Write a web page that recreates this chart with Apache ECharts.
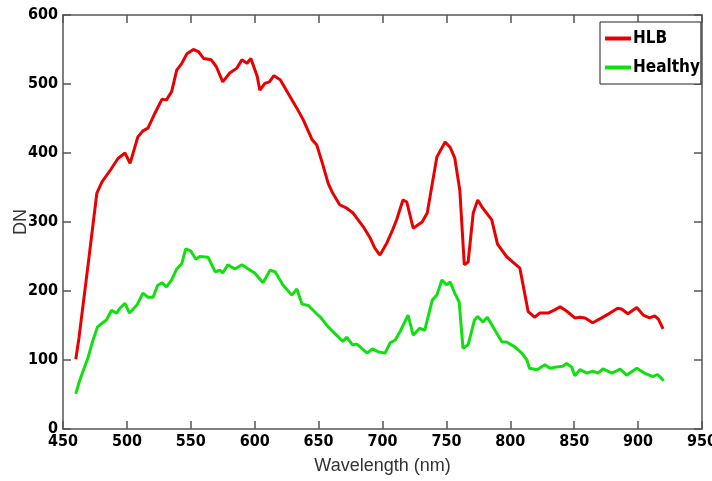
<!DOCTYPE html>
<html>
<head>
<meta charset="utf-8">
<script src="https://cdn.jsdelivr.net/npm/echarts@6/dist/echarts.min.js"></script>
<style>
html,body{margin:0;padding:0;background:#fff;}
#chart{width:712px;height:481px;}
</style>
</head>
<body>
<div id="chart"></div>
<script>
// Wavelength (nm) and DN values
var hlbWavelength = [460,462.5,469.5,476.5,480.5,487,493,498.5,502.5,508.5,512.5,516.5,522,527.5,531,535,539,543,547,552,556,560,566,570,575,580.5,586,590,594,597,602,604,608,611.5,615,620,626,633,638,645,648.5,653,657.5,661,666.5,672,677,685,690,694,698,703.5,708,711,716,719,724,731,735,739,742.5,749,753,756.5,760.5,764,767,771,774.5,778.5,785.5,790,797,802,807.5,814,819,823,829.5,834,839,844,850.5,854.5,858.5,864.5,871.5,878,884,887,892,899,904,909,913,916,919.5];
var hlbDN = [101,132,236,342,358,375,392,400,385,423,432,436,458,478,477,489,520,530,544,550,547,537,535,525,503,516,523,535,530,537,511,491,501,503,512,506,487,465,448,419,412,385,356,342,325,320,313,293,278,262,252,270,289,303,332,329,291,300,313,356,394,416,408,393,346,238,242,313,332,320,303,268,250,242,233,170,162,168,168,172,177,171,161,162,161,154,161,168,175,174,167,176,165,161,164,159,145];

var healthyWavelength = [460,462.5,465.5,469.5,473.5,477,481,484,488,492,494.5,498.5,502,508,512.5,516.5,520.5,524,527.5,531,535,539,543,546,550,554,557,563.5,569,573,575,579,584.5,590,595,600,606.5,612,616,622,629,633,637,642,648.5,651,657.5,664,669,672,676.5,680,688,692,696.5,702,706,710,714,720,724,729,733,739,742.5,746.5,750,753,756.5,760,763,767,772,774.5,778.5,782,788,793.5,797,803.5,809,813,815,821,827,831,836.5,841,844,848,850.5,854.5,860,864.5,868.5,872.5,879.5,886,891,899,905,911.5,915,918,920];
var healthyDN = [51,67,83,103,129,148,154,158,172,168,175,182,168,180,197,191,191,208,212,206,216,232,240,261,258,246,250,249,228,230,226,238,232,238,232,226,212,230,228,209,194,203,181,179,167,163,148,136,127,133,122,123,110,116,112,110,125,129,142,165,136,146,143,187,194,216,209,213,197,184,117,122,158,163,155,162,143,126,126,119,110,100,88,86,93,88,90,91,95,90,77,86,81,84,81,87,81,87,78,88,81,76,79,74,70];

var xTicks = {min:450, max:950, step:50};
var yTicks = {min:0, max:600, step:100};

function pairs(xs, ys){ return xs.map(function(x,i){ return [x, ys[i]]; }); }

var FONT = "'DejaVu Sans Condensed','Liberation Sans',Arial,sans-serif";
var FONT2 = "'Liberation Sans',Arial,sans-serif";
var axisColor = '#555';

var chart = echarts.init(document.getElementById('chart'), null, {renderer:'canvas'});
chart.setOption({
  animation:false,
  backgroundColor:'#fff',
  grid:{left:63, right:10, top:15, bottom:52, show:false, containLabel:false, outerBoundsMode:'none'},
  legend:{
    left:600, top:22,
    orient:'vertical',
    icon:'rect',
    itemWidth:26, itemHeight:4,
    itemGap:12,
    padding:[8,1,8,5],
    borderColor:'#222', borderWidth:1,
    backgroundColor:'#fff',
    textStyle:{fontFamily:FONT, fontWeight:'bold', fontSize:17, color:'#000', padding:[0,0,0,-3]},
    data:['HLB','Healthy']
  },
  xAxis:[{
    type:'value', min:xTicks.min, max:xTicks.max, interval:xTicks.step,
    name:'Wavelength (nm)', nameLocation:'middle', nameGap:28, nameMoveOverlap:false,
    nameTextStyle:{fontFamily:FONT2, fontSize:18, color:'#333'},
    axisLine:{show:true, onZero:false, lineStyle:{color:axisColor, width:1.5}},
    axisTick:{show:true, inside:true, length:8, lineStyle:{color:axisColor, width:1.5}},
    axisLabel:{fontFamily:FONT, fontWeight:'bold', fontSize:16, color:'#000', margin:5},
    splitLine:{show:false}
  },{
    type:'value', position:'top', min:xTicks.min, max:xTicks.max, interval:xTicks.step,
    axisLine:{show:true, onZero:false, lineStyle:{color:axisColor, width:1.5}},
    axisTick:{show:true, inside:true, length:8, lineStyle:{color:axisColor, width:1.5}},
    axisLabel:{show:false}, splitLine:{show:false}
  }],
  yAxis:[{
    type:'value', min:yTicks.min, max:yTicks.max, interval:yTicks.step,
    name:'DN', nameLocation:'middle', nameGap:33, nameMoveOverlap:false,
    nameTextStyle:{fontFamily:FONT2, fontSize:18, color:'#333'},
    axisLine:{show:true, onZero:false, lineStyle:{color:axisColor, width:1.5}},
    axisTick:{show:true, inside:true, length:8, lineStyle:{color:axisColor, width:1.5}},
    axisLabel:{fontFamily:FONT, fontWeight:'bold', fontSize:16, color:'#000', margin:5},
    splitLine:{show:false}
  },{
    type:'value', position:'right', min:yTicks.min, max:yTicks.max, interval:yTicks.step,
    axisLine:{show:true, onZero:false, lineStyle:{color:axisColor, width:1.5}},
    axisTick:{show:true, inside:true, length:8, lineStyle:{color:axisColor, width:1.5}},
    axisLabel:{show:false}, splitLine:{show:false}
  }],
  series:[{
    name:'HLB', type:'line', xAxisIndex:0, yAxisIndex:0,
    data:pairs(hlbWavelength, hlbDN),
    showSymbol:false, symbol:'none',
    lineStyle:{color:'#ea0000', width:3},
    itemStyle:{color:'#ea0000'}
  },{
    name:'Healthy', type:'line', xAxisIndex:0, yAxisIndex:0,
    data:pairs(healthyWavelength, healthyDN),
    showSymbol:false, symbol:'none',
    lineStyle:{color:'#10e010', width:3},
    itemStyle:{color:'#10e010'}
  }]
});
</script>
</body>
</html>
